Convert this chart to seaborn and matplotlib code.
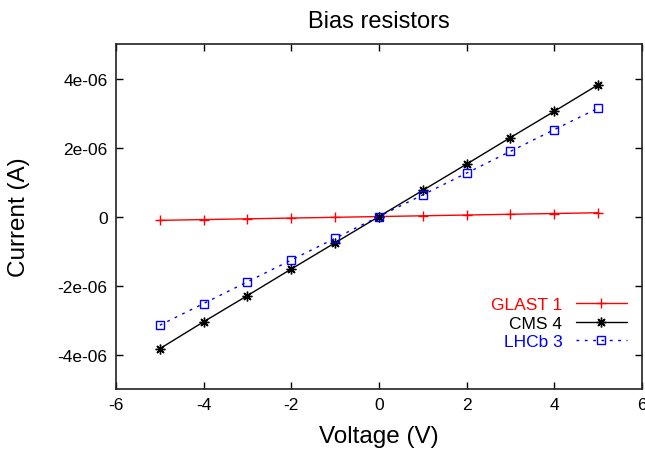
import matplotlib
matplotlib.use("Agg")
import matplotlib.pyplot as plt
import seaborn as sns
import pandas as pd

voltage = [-5, -4, -3, -2, -1, 0, 1, 2, 3, 4, 5]
glast1 = [-1.10e-7, -0.88e-7, -0.66e-7, -0.44e-7, -0.22e-7, 0.0, 0.22e-7, 0.44e-7, 0.66e-7, 0.88e-7, 1.10e-7]
cms4 = [-3.83e-6, -3.05e-6, -2.29e-6, -1.52e-6, -0.76e-6, 0.0, 0.76e-6, 1.52e-6, 2.29e-6, 3.05e-6, 3.82e-6]
lhcb3 = [-3.15e-6, -2.52e-6, -1.89e-6, -1.26e-6, -0.63e-6, 0.0, 0.63e-6, 1.26e-6, 1.89e-6, 2.52e-6, 3.14e-6]
series_names = ["GLAST 1", "CMS 4", "LHCb 3"]
x_ticks = [-6, -4, -2, 0, 2, 4, 6]
y_ticks = [-4e-6, -2e-6, 0, 2e-6, 4e-6]
y_tick_labels = ["-4e-06", "-2e-06", "0", "2e-06", "4e-06"]

sns.set_theme(style="white")
plt.rcParams['font.family'] = ['Liberation Sans', 'DejaVu Sans']
plt.rcParams['text.color'] = 'black'
plt.rcParams['axes.labelcolor'] = 'black'

fig = plt.figure(figsize=(6.45, 4.52), dpi=100)
ax = fig.add_axes([0.1798, 0.137, 0.8155, 0.7634])

df = pd.DataFrame({"V": voltage, "GLAST 1": glast1, "CMS 4": cms4, "LHCb 3": lhcb3})

styles = {
    "GLAST 1": dict(color="#ff0000", marker="+", markersize=7, linestyle="-", mfc="#ff0000", mew=1.0),
    "CMS 4": dict(color="#000000", marker=(8, 2, 0), markersize=7, linestyle="-", mfc="#000000", mew=1.0),
    "LHCb 3": dict(color="#0000ff", marker="s", markersize=6, linestyle=(0, (2, 4)), mfc="none", mew=1.0),
}
for name in series_names:
    st = styles[name]
    sns.lineplot(data=df, x="V", y=name, ax=ax, label=name, color=st["color"],
                 marker=st["marker"], markersize=st["markersize"], linestyle=st["linestyle"],
                 markerfacecolor=st["mfc"], markeredgecolor=st["color"], markeredgewidth=st["mew"],
                 linewidth=1.0)

ax.set_xlim(-6, 6)
ax.set_ylim(-5e-6, 5e-6)
ax.set_xticks(x_ticks)
ax.set_xticklabels([str(t) for t in x_ticks])
ax.set_yticks(y_ticks)
ax.set_yticklabels(y_tick_labels)
ax.tick_params(direction="in", length=5, width=1, colors="black", labelsize=12.5,
               top=True, right=True, bottom=True, left=True, labeltop=False, labelright=False)
ax.tick_params(axis="x", pad=6)
ax.tick_params(axis="y", pad=6)
for sp in ax.spines.values():
    sp.set_color("#222222")
    sp.set_linewidth(1.2)

ax.set_xlabel("Voltage (V)", fontsize=17.5, labelpad=9, color="black")
ax.set_ylabel("Current (A)", fontsize=17.5, labelpad=20, color="black")
ax.set_title("Bias resistors", fontsize=17, pad=12, color="black")

leg = ax.legend(loc="lower right", bbox_to_anchor=(0.984, 0.095), frameon=False, markerfirst=False,
                handlelength=2.9, fontsize=12.5, labelspacing=0.2, borderaxespad=0.2,
                handletextpad=0.8, borderpad=0.2)
for txt, name in zip(leg.get_texts(), series_names):
    txt.set_color(styles[name]["color"])

fig.savefig("out.png", dpi=100)
